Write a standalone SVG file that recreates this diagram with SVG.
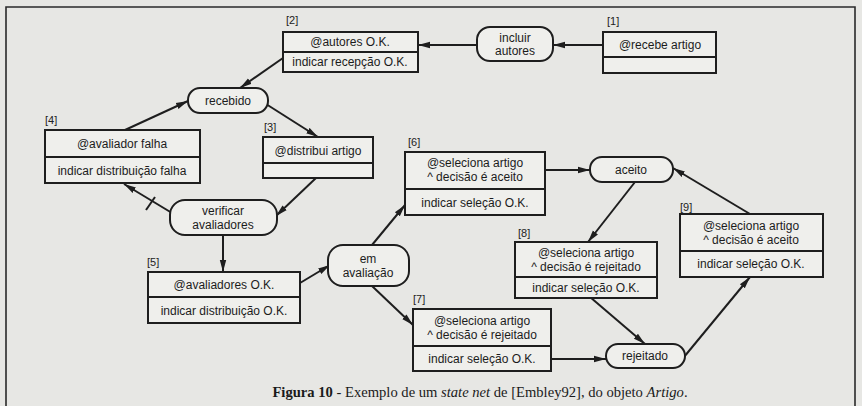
<svg xmlns="http://www.w3.org/2000/svg" width="862" height="406" viewBox="0 0 862 406">
<defs>
<marker id="ah" markerUnits="userSpaceOnUse" markerWidth="12" markerHeight="8" refX="12" refY="4" orient="auto">
<path d="M0,0.8 L12,4 L0,7.2 z" fill="#1e1e1e"/>
</marker>
<style>
.bg{fill:#e7e7e4}
.frame{fill:none;stroke:#2a2a2a;stroke-width:1.6}
.box{fill:#efefec;stroke:#1e1e1e;stroke-width:2}
.div{stroke:#1e1e1e;stroke-width:2}
.pill{fill:#efefec;stroke:#1e1e1e;stroke-width:2}
.t{font-family:"Liberation Sans",Arial,sans-serif;font-size:12px;fill:#1c1c1c;text-anchor:middle}
.lbl{font-family:"Liberation Sans",Arial,sans-serif;font-size:11px;fill:#222}
.c{fill:none;stroke:#1e1e1e;stroke-width:2;marker-end:url(#ah)}
.cap{font-family:"Liberation Serif","Times New Roman",serif;font-size:14.6px;fill:#1a1a1a;text-anchor:middle}
</style>
</defs>
<rect class="bg" x="0" y="0" width="862" height="406"/>
<path class="frame" d="M6,406 L6,7 L855,7 L855,406"/>

<g id="connectors">
<line class="c" x1="603" y1="45" x2="553" y2="45"/>
<line class="c" x1="477" y1="45" x2="418" y2="45"/>
<line class="c" x1="283" y1="58" x2="240" y2="88"/>
<line class="c" x1="125" y1="130" x2="188" y2="101"/>
<line class="c" x1="266" y1="104" x2="318" y2="137"/>
<line class="c" x1="316" y1="178" x2="276" y2="216"/>
<line class="c" x1="172" y1="213" x2="124" y2="184"/>
<line x1="146" y1="210" x2="155" y2="197" stroke="#1e1e1e" stroke-width="2"/>
<line class="c" x1="223" y1="235" x2="223" y2="272"/>
<line class="c" x1="300" y1="283" x2="330" y2="265"/>
<line class="c" x1="372" y1="245" x2="405" y2="205"/>
<line class="c" x1="372" y1="286" x2="413" y2="325"/>
<line class="c" x1="545" y1="170" x2="590" y2="170"/>
<line class="c" x1="635" y1="182" x2="588" y2="242"/>
<line class="c" x1="750" y1="214" x2="673" y2="168"/>
<line class="c" x1="590" y1="297" x2="645" y2="344"/>
<line class="c" x1="551" y1="359" x2="606" y2="359"/>
<line class="c" x1="684" y1="357" x2="750" y2="277"/>
</g>

<g id="n1">
<text class="lbl" x="607" y="25">[1]</text>
<rect class="box" x="603" y="32" width="113" height="41"/>
<line class="div" x1="603" y1="57" x2="716" y2="57"/>
<text class="t" x="660" y="49">@recebe artigo</text>
</g>
<g id="incluir">
<rect class="pill" x="477" y="27" width="76" height="34" rx="13"/>
<text class="t" x="515" y="42">incluir</text>
<text class="t" x="515" y="55">autores</text>
</g>
<g id="n2">
<text class="lbl" x="286" y="24">[2]</text>
<rect class="box" x="283" y="32" width="135" height="40"/>
<line class="div" x1="283" y1="52" x2="418" y2="52"/>
<text class="t" x="350" y="46">@autores O.K.</text>
<text class="t" x="350" y="66">indicar recepção O.K.</text>
</g>
<g id="recebido">
<rect class="pill" x="188" y="88" width="80" height="25" rx="12"/>
<text class="t" x="228" y="105">recebido</text>
</g>
<g id="n4">
<text class="lbl" x="45" y="124">[4]</text>
<rect class="box" x="45" y="130" width="155" height="53"/>
<line class="div" x1="45" y1="157" x2="200" y2="157"/>
<text class="t" x="122" y="148">@avaliador falha</text>
<text class="t" x="122" y="175">indicar distribuição falha</text>
</g>
<g id="n3">
<text class="lbl" x="264" y="131">[3]</text>
<rect class="box" x="263" y="137" width="110" height="41"/>
<line class="div" x1="263" y1="163" x2="373" y2="163"/>
<text class="t" x="318" y="155">@distribui artigo</text>
</g>
<g id="verificar">
<rect class="pill" x="170" y="200" width="107" height="35" rx="15"/>
<text class="t" x="223" y="215">verificar</text>
<text class="t" x="223" y="229">avaliadores</text>
</g>
<g id="n5">
<text class="lbl" x="147" y="266">[5]</text>
<rect class="box" x="148" y="272" width="152" height="51"/>
<line class="div" x1="148" y1="297" x2="300" y2="297"/>
<text class="t" x="224" y="289">@avaliadores O.K.</text>
<text class="t" x="224" y="315">indicar distribuição O.K.</text>
</g>
<g id="em_avaliacao">
<rect class="pill" x="328" y="245" width="81" height="41" rx="15"/>
<text class="t" x="368" y="263">em</text>
<text class="t" x="368" y="277">avaliação</text>
</g>
<g id="n6">
<text class="lbl" x="408" y="146">[6]</text>
<rect class="box" x="405" y="152" width="140" height="63"/>
<line class="div" x1="405" y1="189" x2="545" y2="189"/>
<text class="t" x="475" y="167">@seleciona artigo</text>
<text class="t" x="475" y="181">^ decisão é aceito</text>
<text class="t" x="475" y="207">indicar seleção O.K.</text>
</g>
<g id="aceito">
<rect class="pill" x="590" y="157" width="83" height="25" rx="12"/>
<text class="t" x="631" y="174">aceito</text>
</g>
<g id="n8">
<text class="lbl" x="518" y="237">[8]</text>
<rect class="box" x="515" y="242" width="142" height="56"/>
<line class="div" x1="515" y1="277" x2="657" y2="277"/>
<text class="t" x="586" y="257">@seleciona artigo</text>
<text class="t" x="586" y="271">^ decisão é rejeitado</text>
<text class="t" x="586" y="292">indicar seleção O.K.</text>
</g>
<g id="n7">
<text class="lbl" x="413" y="303">[7]</text>
<rect class="box" x="413" y="309" width="138" height="62"/>
<line class="div" x1="413" y1="346" x2="551" y2="346"/>
<text class="t" x="482" y="325">@seleciona artigo</text>
<text class="t" x="482" y="339">^ decisão é rejeitado</text>
<text class="t" x="482" y="363">indicar seleção O.K.</text>
</g>
<g id="rejeitado">
<rect class="pill" x="606" y="344" width="79" height="24" rx="12"/>
<text class="t" x="645" y="360">rejeitado</text>
</g>
<g id="n9">
<text class="lbl" x="680" y="211">[9]</text>
<rect class="box" x="680" y="214" width="143" height="63"/>
<line class="div" x1="680" y1="251" x2="823" y2="251"/>
<text class="t" x="751" y="230">@seleciona artigo</text>
<text class="t" x="751" y="244">^ decisão é aceito</text>
<text class="t" x="751" y="268">indicar seleção O.K.</text>
</g>

<text class="cap" x="480" y="397"><tspan font-weight="bold">Figura 10</tspan> - Exemplo de um <tspan font-style="italic">state net</tspan> de [Embley92], do objeto <tspan font-style="italic">Artigo</tspan>.</text>
</svg>
